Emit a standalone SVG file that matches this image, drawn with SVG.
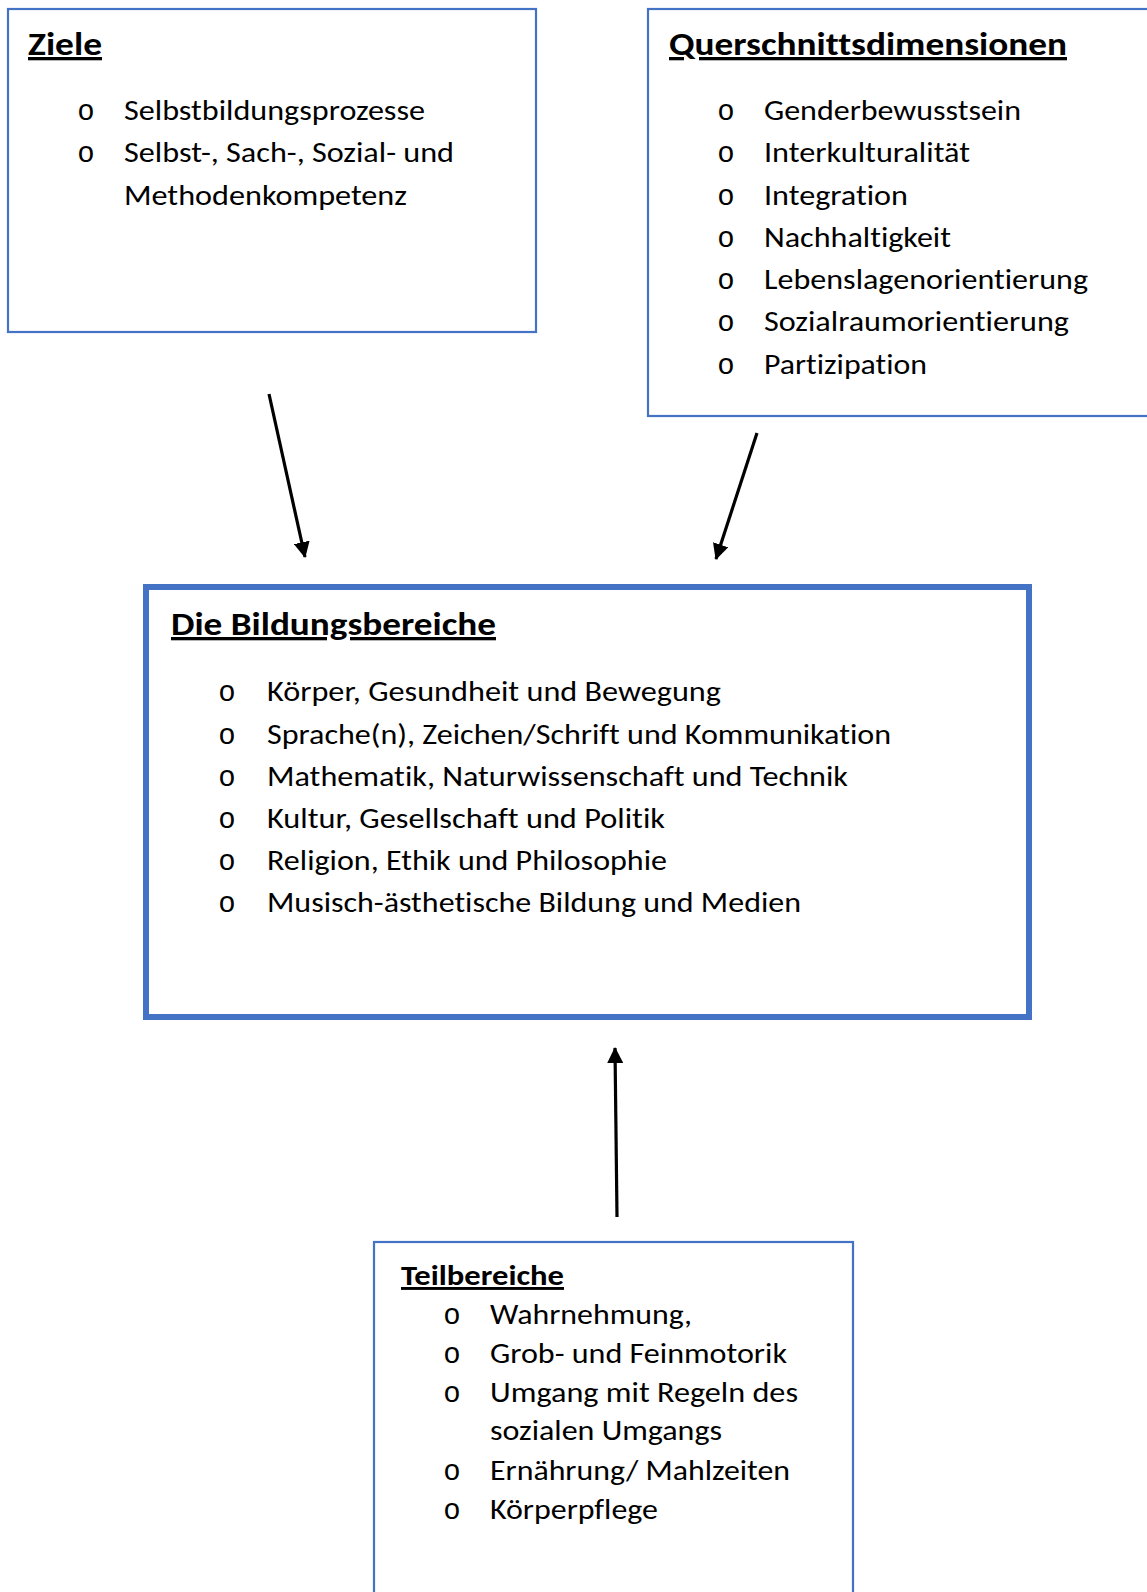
<svg xmlns="http://www.w3.org/2000/svg" width="1147" height="1592" viewBox="0 0 1147 1592">
<style>
.box{fill:#fff;stroke:#4472C4;stroke-width:2.2}
.thick{fill:#fff;stroke:#4472C4;stroke-width:6}
text{font-variant-ligatures:none}
.t{font-family:Carlito,Lato,"Open Sans",sans-serif;font-weight:700;font-size:33px;fill:#000;text-decoration:underline;text-decoration-skip-ink:none}
.ts{font-size:29px}
.i{font-family:Carlito,Lato,"Open Sans",sans-serif;font-size:29px;fill:#000}
.b{font-family:"Liberation Mono",monospace;font-size:29px;fill:#000;text-anchor:middle}
.c{stroke:#000;stroke-width:3.2;fill:none}
</style>
<defs>
<marker id="ah" markerUnits="userSpaceOnUse" markerWidth="16" markerHeight="16" viewBox="0 0 16 16" refX="15" refY="8" orient="auto">
<path d="M0,0 L16,8 L0,16 Z" fill="#000"/>
</marker>
</defs>
<g id="ziele">
<rect class="box" x="8" y="9" width="528" height="323"/>
<text class="t" x="28" y="55" textLength="74" lengthAdjust="spacingAndGlyphs">Ziele</text>
<text class="b" x="86" y="120">o</text>
<text class="i" x="124" y="120" textLength="301" lengthAdjust="spacingAndGlyphs">Selbstbildungsprozesse</text>
<text class="b" x="86" y="162">o</text>
<text class="i" x="124" y="162" textLength="330" lengthAdjust="spacingAndGlyphs">Selbst-, Sach-, Sozial- und</text>
<text class="i" x="124" y="205" textLength="283" lengthAdjust="spacingAndGlyphs">Methodenkompetenz</text>
</g>
<g id="querschnitt">
<rect class="box" x="648" y="9" width="520" height="407"/>
<text class="t" x="669" y="55" textLength="398" lengthAdjust="spacingAndGlyphs">Querschnittsdimensionen</text>
<text class="b" x="726" y="120">o</text>
<text class="i" x="764" y="120" textLength="257" lengthAdjust="spacingAndGlyphs">Genderbewusstsein</text>
<text class="b" x="726" y="162">o</text>
<text class="i" x="764" y="162" textLength="206" lengthAdjust="spacingAndGlyphs">Interkulturalität</text>
<text class="b" x="726" y="205">o</text>
<text class="i" x="764" y="205" textLength="144" lengthAdjust="spacingAndGlyphs">Integration</text>
<text class="b" x="726" y="247">o</text>
<text class="i" x="764" y="247" textLength="187" lengthAdjust="spacingAndGlyphs">Nachhaltigkeit</text>
<text class="b" x="726" y="289">o</text>
<text class="i" x="764" y="289" textLength="324" lengthAdjust="spacingAndGlyphs">Lebenslagenorientierung</text>
<text class="b" x="726" y="331">o</text>
<text class="i" x="764" y="331" textLength="305" lengthAdjust="spacingAndGlyphs">Sozialraumorientierung</text>
<text class="b" x="726" y="374">o</text>
<text class="i" x="764" y="374" textLength="163" lengthAdjust="spacingAndGlyphs">Partizipation</text>
</g>
<g id="bildungsbereiche">
<rect class="thick" x="146" y="587" width="883" height="430"/>
<text class="t" x="171" y="635" textLength="325" lengthAdjust="spacingAndGlyphs">Die Bildungsbereiche</text>
<text class="b" x="227" y="701">o</text>
<text class="i" x="267" y="701" textLength="454" lengthAdjust="spacingAndGlyphs">Körper, Gesundheit und Bewegung</text>
<text class="b" x="227" y="744">o</text>
<text class="i" x="267" y="744" textLength="624" lengthAdjust="spacingAndGlyphs">Sprache(n), Zeichen/Schrift und Kommunikation</text>
<text class="b" x="227" y="786">o</text>
<text class="i" x="267" y="786" textLength="581" lengthAdjust="spacingAndGlyphs">Mathematik, Naturwissenschaft und Technik</text>
<text class="b" x="227" y="828">o</text>
<text class="i" x="267" y="828" textLength="398" lengthAdjust="spacingAndGlyphs">Kultur, Gesellschaft und Politik</text>
<text class="b" x="227" y="870">o</text>
<text class="i" x="267" y="870" textLength="400" lengthAdjust="spacingAndGlyphs">Religion, Ethik und Philosophie</text>
<text class="b" x="227" y="912">o</text>
<text class="i" x="267" y="912" textLength="534" lengthAdjust="spacingAndGlyphs">Musisch-ästhetische Bildung und Medien</text>
</g>
<g id="teilbereiche">
<rect class="box" x="374" y="1242" width="479" height="400"/>
<text class="t ts" x="401" y="1285" textLength="163" lengthAdjust="spacingAndGlyphs">Teilbereiche</text>
<text class="b" x="452" y="1324">o</text>
<text class="i" x="490" y="1324" textLength="202" lengthAdjust="spacingAndGlyphs">Wahrnehmung,</text>
<text class="b" x="452" y="1363">o</text>
<text class="i" x="490" y="1363" textLength="297" lengthAdjust="spacingAndGlyphs">Grob- und Feinmotorik</text>
<text class="b" x="452" y="1402">o</text>
<text class="i" x="490" y="1402" textLength="308" lengthAdjust="spacingAndGlyphs">Umgang mit Regeln des</text>
<text class="i" x="490" y="1440" textLength="232" lengthAdjust="spacingAndGlyphs">sozialen Umgangs</text>
<text class="b" x="452" y="1480">o</text>
<text class="i" x="490" y="1480" textLength="300" lengthAdjust="spacingAndGlyphs">Ernährung/ Mahlzeiten</text>
<text class="b" x="452" y="1519">o</text>
<text class="i" x="490" y="1519" textLength="168" lengthAdjust="spacingAndGlyphs">Körperpflege</text>
</g>
<g id="connectors">
<line class="c" x1="269" y1="394" x2="305" y2="557" marker-end="url(#ah)"/>
<line class="c" x1="757" y1="433" x2="716" y2="559" marker-end="url(#ah)"/>
<line class="c" x1="617" y1="1217" x2="615" y2="1048" marker-end="url(#ah)"/>
</g>
</svg>
